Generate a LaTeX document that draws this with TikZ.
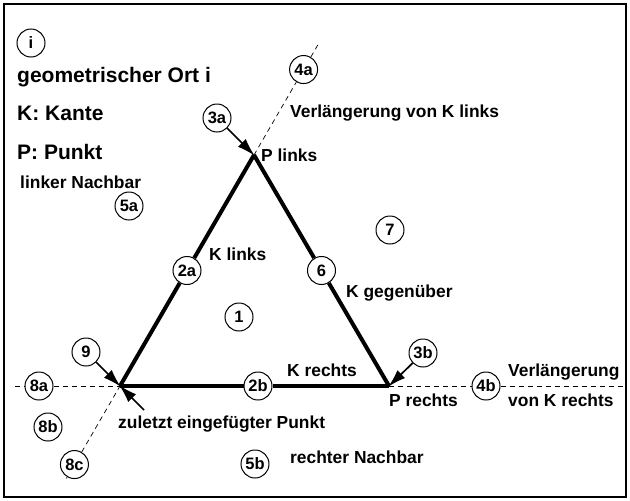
\documentclass[tikz,border=0pt]{standalone}
\usepackage{fontspec}
\setmainfont{Liberation Sans}
\usetikzlibrary{positioning,arrows.meta,calc}
\tikzset{
  kreis/.style={draw, circle, fill=white, line width=1pt, minimum size=28pt, inner sep=0pt, font=\fontsize{16.5}{18}\selectfont\bfseries},
  txt/.style={anchor=west, inner sep=0pt, font=\fontsize{17.4}{20}\selectfont\bfseries},
  gross/.style={anchor=west, inner sep=0pt, font=\fontsize{21}{24}\selectfont\bfseries},
  kante/.style={line width=4pt, line join=miter},
  verl/.style={dashed, dash pattern=on 5pt off 4pt, line width=0.9pt},
  pfeil/.style={-{Latex[length=18pt,width=11pt]}, line width=1.7pt, shorten >=-1pt},
}
\begin{document}
\begin{tikzpicture}[x=1pt,y=-1pt]
  \useasboundingbox (0,0) rectangle (630,501);
  \draw[line width=1.3pt] (4,4) rectangle (626,497);
  % Dreieck
  \coordinate (vl) at (120,386);
  \coordinate (vr) at (389,386);
  \coordinate (vt) at (254,155);
  \coordinate (hl) at (15,386);
  \coordinate (hr) at (624,386);
  \coordinate (so) at ($(vl)!1.49!(vt)$);
  \coordinate (su) at ($(vl)!-0.40!(vt)$);
  \coordinate (zp) at (144,410);
  % Legende
  \node[kreis] (ci) at (31,43) {i};
  \node[gross] (ort) at (17,77) {geometrischer Ort i};
  \node[gross] (kk) at (17,113) {K: Kante};
  \node[gross] (pp) at (17,152) {P: Punkt};
  % Kreise
  \node[kreis] (c1) at (239,317) {1};
  \node[kreis] (c2a) at ($(vl)!0.5!(vt)$) {2a};
  \node[kreis] (c2b) at (258,386) {2b};
  \node[kreis] (c3a) at (217,118) {3a};
  \node[kreis] (c3b) at (423,353) {3b};
  \node[kreis] (c4a) at ($(vl)!1.37!(vt)$) {4a};
  \node[kreis] (c4b) at (486,386) {4b};
  \node[kreis] (c5a) at (129,206) {5a};
  \node[kreis] (c5b) at (255,464) {5b};
  \node[kreis] (c6) at ($(vr)!0.5!(vt)$) {6};
  \node[kreis] (c7) at (390,230) {7};
  \node[kreis] (c8a) at (39,386) {8a};
  \node[kreis] (c8b) at (48,427) {8b};
  \node[kreis] (c8c) at ($(vl)!-0.34!(vt)$) {8c};
  \node[kreis] (c9) at (86,352) {9};
  % Texte
  \node[txt] (vkl) at (290,113) {Verlängerung von K links};
  \node[txt] (pl) at (261,155) {P links};
  \node[txt] (ln) at (20,182) {linker Nachbar};
  \node[txt] (kl) at (209,254) {K links};
  \node[txt] (kg) at (346,293) {K gegenüber};
  \node[txt] (kr) at (287,370) {K rechts};
  \node[txt] (pr) at (389,400) {P rechts};
  \node[txt] (vkr1) at (508,372) {Verlängerung};
  \node[txt] (vkr2) at (508,400) {von K rechts};
  \node[txt] (zl) at (118,424) {zuletzt eingefügter Punkt};
  \node[txt] (rn) at (290,457) {rechter Nachbar};
  % Verlaengerungen
  \draw[verl] (hl) -- (c8a) -- (vl);
  \draw[verl] (vr) -- (c4b) -- (hr);
  \draw[verl, line width=0.7pt] (su) -- (c8c) -- (vl);
  \draw[verl, line width=0.7pt] (vt) -- (c4a) -- (so);
  % Kanten
  \draw[kante] (vl) -- (c2a) -- (vt);
  \draw[kante] (vt) -- (c6) -- (vr);
  \draw[kante] (vr) -- (c2b) -- (vl);
  % Pfeile
  \draw[pfeil] (c3a) -- (vt);
  \draw[pfeil] (c9) -- (vl);
  \draw[pfeil] (zp) -- (vl);
  \draw[pfeil] (c3b) -- (vr);
\end{tikzpicture}
\end{document}
